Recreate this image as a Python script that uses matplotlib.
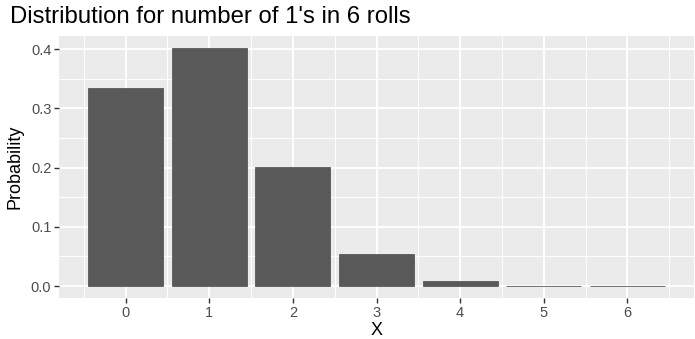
import matplotlib.pyplot as plt
from matplotlib.ticker import MultipleLocator

x_values = [0, 1, 2, 3, 4, 5, 6]
probabilities = [0.3349, 0.4019, 0.2009, 0.0536, 0.0080, 0.0006, 0.00002]
x_ticks = ['0', '1', '2', '3', '4', '5', '6']
y_ticks = [0.0, 0.1, 0.2, 0.3, 0.4]

plt.rcParams['font.family'] = ['Liberation Sans', 'DejaVu Sans']

fig = plt.figure(figsize=(6.95, 3.39), dpi=100)
ax = fig.add_axes([59 / 695, 41 / 339, 635 / 695, 262 / 339])

ax.set_facecolor('#EBEBEB')
# thin edge so the near-zero bars still show as a line, like ggplot
ax.bar(x_values, probabilities, width=0.9, color='#595959',
       edgecolor='#595959', linewidth=0.6, zorder=3)

# ggplot-like expansion
ax.set_xlim(-0.795, 6.795)
top = max(probabilities) * 1.05
ax.set_ylim(-max(probabilities) * 0.05, top)

ax.set_xticks(x_values)
ax.set_xticklabels(x_ticks)
ax.set_yticks(y_ticks)
ax.set_yticklabels([f'{v:.1f}' for v in y_ticks])
ax.xaxis.set_minor_locator(MultipleLocator(0.5))
ax.yaxis.set_minor_locator(MultipleLocator(0.05))

ax.grid(which='major', color='white', linewidth=1.3, zorder=0)
ax.grid(which='minor', color='white', linewidth=0.65, zorder=0)
ax.set_axisbelow(True)
for s in ax.spines.values():
    s.set_visible(False)

ax.tick_params(which='major', length=3.5, width=1.0, color='#333333',
               labelcolor='#4D4D4D', labelsize=10.5, pad=2)
ax.tick_params(which='minor', length=0)

ax.set_xlabel('X', fontsize=13, labelpad=2)
ax.set_ylabel('Probability', fontsize=13, labelpad=5)
fig.text(10 / 695, 1 - 23 / 339, "Distribution for number of 1's in 6 rolls",
         fontsize=17.2, va='baseline', ha='left')

fig.savefig('out.png', dpi=100)
